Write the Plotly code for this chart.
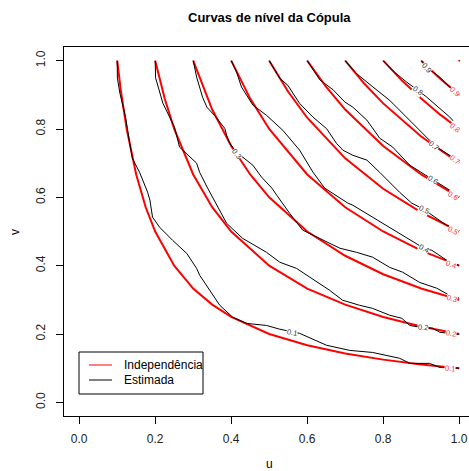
import math
import plotly.graph_objects as go

levels = [0.1, 0.2, 0.3, 0.4, 0.5, 0.6, 0.7, 0.8, 0.9]
level_text = ["0.1", "0.2", "0.3", "0.4", "0.5", "0.6", "0.7", "0.8", "0.9"]

# Independence copula contours (red)
red_u_1 = [0.1, 0.11, 0.125, 0.15, 0.175, 0.2, 0.25, 0.3, 0.35, 0.4, 0.5, 0.6, 0.7, 0.8, 0.9, 1.0]
red_v_1 = [1.0, 0.909, 0.8, 0.667, 0.571, 0.5, 0.4, 0.333, 0.286, 0.25, 0.2, 0.167, 0.143, 0.125, 0.111, 0.1]
red_u_2 = [0.2, 0.225, 0.25, 0.3, 0.35, 0.4, 0.5, 0.6, 0.7, 0.8, 0.9, 1.0]
red_v_2 = [1.0, 0.889, 0.8, 0.667, 0.571, 0.5, 0.4, 0.333, 0.286, 0.25, 0.222, 0.2]
red_u_3 = [0.3, 0.35, 0.4, 0.45, 0.5, 0.6, 0.7, 0.8, 0.9, 1.0]
red_v_3 = [1.0, 0.857, 0.75, 0.667, 0.6, 0.5, 0.429, 0.375, 0.333, 0.3]
red_u_4 = [0.4, 0.45, 0.5, 0.6, 0.7, 0.8, 0.9, 1.0]
red_v_4 = [1.0, 0.889, 0.8, 0.667, 0.571, 0.5, 0.444, 0.4]
red_u_5 = [0.5, 0.55, 0.6, 0.7, 0.8, 0.9, 1.0]
red_v_5 = [1.0, 0.909, 0.833, 0.714, 0.625, 0.556, 0.5]
red_u_6 = [0.6, 0.65, 0.7, 0.8, 0.9, 1.0]
red_v_6 = [1.0, 0.923, 0.857, 0.75, 0.667, 0.6]
red_u_7 = [0.7, 0.75, 0.8, 0.9, 1.0]
red_v_7 = [1.0, 0.933, 0.875, 0.778, 0.7]
red_u_8 = [0.8, 0.85, 0.9, 0.95, 1.0]
red_v_8 = [1.0, 0.941, 0.889, 0.842, 0.8]
red_u_9 = [0.9, 0.95, 1.0]
red_v_9 = [1.0, 0.947, 0.9]

# Estimated copula contours (black)
est_u_1 = [0.100, 0.1005, 0.107, 0.122, 0.133, 0.140, 0.159, 0.177, 0.180, 0.186, 0.193, 0.212, 0.246,
           0.283, 0.309, 0.317, 0.343, 0.370, 0.404, 0.441, 0.493, 0.528, 0.580, 0.651, 0.712, 0.772,
           0.843, 0.870, 0.922, 0.949, 1.000]
est_v_1 = [1.000, 0.949, 0.905, 0.835, 0.758, 0.714, 0.673, 0.627, 0.615, 0.592, 0.542, 0.512, 0.474,
           0.436, 0.392, 0.372, 0.328, 0.284, 0.249, 0.231, 0.225, 0.214, 0.202, 0.167, 0.152, 0.146,
           0.129, 0.114, 0.114, 0.102, 0.100]
est_u_2 = [0.200, 0.201, 0.220, 0.251, 0.264, 0.309, 0.317, 0.338, 0.388, 0.430, 0.493, 0.528, 0.572,
           0.607, 0.659, 0.693, 0.738, 0.772, 0.817, 0.849, 0.870, 0.896, 0.930, 0.949, 1.000]
est_v_2 = [1.000, 0.950, 0.876, 0.805, 0.747, 0.700, 0.673, 0.627, 0.524, 0.480, 0.439, 0.410, 0.392,
           0.366, 0.328, 0.299, 0.284, 0.275, 0.255, 0.246, 0.225, 0.220, 0.217, 0.205, 0.199]
est_u_3 = [0.300, 0.309, 0.325, 0.336, 0.362, 0.383, 0.388, 0.396, 0.414, 0.430, 0.457, 0.480, 0.507,
           0.520, 0.554, 0.588, 0.633, 0.686, 0.730, 0.772, 0.817, 0.851, 0.896, 0.941, 0.975, 1.000]
est_v_3 = [1.000, 0.952, 0.892, 0.864, 0.832, 0.802, 0.782, 0.758, 0.732, 0.717, 0.694, 0.659, 0.627,
           0.606, 0.553, 0.504, 0.480, 0.451, 0.439, 0.425, 0.395, 0.381, 0.351, 0.334, 0.313, 0.305]
est_u_4 = [0.400, 0.414, 0.427, 0.457, 0.493, 0.536, 0.580, 0.615, 0.646, 0.707, 0.720, 0.772, 0.817,
           0.851, 0.878, 0.907, 0.928, 0.957, 0.975, 1.000]
est_v_4 = [1.000, 0.967, 0.923, 0.870, 0.840, 0.796, 0.738, 0.674, 0.627, 0.583, 0.577, 0.542, 0.510,
           0.489, 0.469, 0.451, 0.445, 0.422, 0.410, 0.401]
est_u_5 = [0.500, 0.528, 0.549, 0.580, 0.615, 0.651, 0.677, 0.694, 0.720, 0.757, 0.791, 0.817, 0.843,
           0.875, 0.907, 0.922, 0.967, 1.000]
est_v_5 = [1.000, 0.948, 0.928, 0.875, 0.835, 0.801, 0.758, 0.738, 0.723, 0.709, 0.673, 0.644, 0.615,
           0.583, 0.565, 0.553, 0.518, 0.504]
est_u_6 = [0.600, 0.633, 0.668, 0.699, 0.720, 0.757, 0.791, 0.825, 0.870, 0.904, 0.930, 0.949, 0.975, 1.000]
est_v_6 = [1.000, 0.944, 0.915, 0.879, 0.864, 0.826, 0.773, 0.747, 0.694, 0.671, 0.653, 0.641, 0.621, 0.603]
est_u_7 = [0.700, 0.729, 0.773, 0.817, 0.861, 0.887, 0.922, 0.949, 0.975, 1.000]
est_v_7 = [1.000, 0.963, 0.923, 0.884, 0.835, 0.806, 0.767, 0.741, 0.723, 0.703]
est_u_8 = [0.800, 0.830, 0.861, 0.891, 0.914, 0.949, 0.975, 1.000]
est_v_8 = [1.000, 0.966, 0.938, 0.914, 0.894, 0.860, 0.835, 0.805]
est_u_9 = [0.900, 0.914, 0.949, 0.975, 1.000]
est_v_9 = [1.000, 0.981, 0.952, 0.922, 0.899]

# contour label anchors
red_lab_u = [0.975, 0.978, 0.980, 0.978, 0.983, 0.983, 0.988, 0.988, 0.988]
red_lab_v = [0.100, 0.202, 0.305, 0.404, 0.504, 0.606, 0.712, 0.805, 0.911]
est_lab_u = [0.559, 0.904, 0.414, 0.907, 0.907, 0.930, 0.933, 0.891, 0.914]
est_lab_v = [0.205, 0.220, 0.729, 0.451, 0.565, 0.653, 0.753, 0.914, 0.981]

red_u = [red_u_1, red_u_2, red_u_3, red_u_4, red_u_5, red_u_6, red_u_7, red_u_8, red_u_9]
red_v = [red_v_1, red_v_2, red_v_3, red_v_4, red_v_5, red_v_6, red_v_7, red_v_8, red_v_9]
est_u = [est_u_1, est_u_2, est_u_3, est_u_4, est_u_5, est_u_6, est_u_7, est_u_8, est_u_9]
est_v = [est_v_1, est_v_2, est_v_3, est_v_4, est_v_5, est_v_6, est_v_7, est_v_8, est_v_9]

W, H = 469, 471
ML, MR, MT, MB = 64, 0, 47, 55
XR = [-0.04, 1.0258]
YR = [-0.04, 1.04]
px_per_x = (W - ML - MR) / (XR[1] - XR[0])
px_per_y = (H - MT - MB) / (YR[1] - YR[0])
FONT = "Liberation Sans, Arial, Helvetica, sans-serif"

fig = go.Figure()
for i in range(len(levels)):
    fig.add_trace(go.Scatter(x=red_u[i], y=red_v[i], mode="lines",
                             line=dict(color="#ff0000", width=2), hoverinfo="skip", showlegend=False))
fig.add_trace(go.Scatter(x=[1.0], y=[1.0], mode="markers",
                         marker=dict(color="#ff0000", size=2), hoverinfo="skip", showlegend=False))
for i in range(len(levels)):
    fig.add_trace(go.Scatter(x=est_u[i], y=est_v[i], mode="lines",
                             line=dict(color="#000000", width=1), hoverinfo="skip", showlegend=False))


def local_angle(us, vs, u0):
    # slope of polyline near u0, in screen pixels
    best = 0
    for k in range(len(us) - 1):
        if us[k] <= u0 <= us[k + 1]:
            best = k
            break
        if us[k] < u0:
            best = k
    du = (us[best + 1] - us[best]) * px_per_x
    dv = (vs[best + 1] - vs[best]) * px_per_y
    if du == 0:
        return 90
    return math.degrees(math.atan2(dv, du)) * -1


annotations = []
for i in range(len(levels)):
    annotations.append(dict(x=red_lab_u[i], y=red_lab_v[i], xref="x", yref="y", text=level_text[i],
                            showarrow=False, textangle=local_angle(red_u[i], red_v[i], red_lab_u[i]),
                            font=dict(family=FONT, size=7.5, color="#ff3030"),
                            bgcolor="white", borderpad=0))
    annotations.append(dict(x=est_lab_u[i], y=est_lab_v[i], xref="x", yref="y", text=level_text[i],
                            showarrow=False, textangle=local_angle(est_u[i], est_v[i], est_lab_u[i]),
                            font=dict(family=FONT, size=7.5, color="#333333"),
                            bgcolor="white", borderpad=0))

# title and axis titles
annotations.append(dict(x=(269 - ML) / (W - ML - MR), y=1 + (MT - 18) / (H - MT - MB), xref="paper", yref="paper",
                        text="<b>Curvas de nível da Cópula</b>", showarrow=False,
                        font=dict(family=FONT, size=13, color="black"), xanchor="center", yanchor="middle"))
annotations.append(dict(x=(269 - ML) / (W - ML - MR), y=-(463.5 - (H - MB)) / (H - MT - MB), xref="paper", yref="paper",
                        text="u", showarrow=False, font=dict(family=FONT, size=12, color="black"),
                        xanchor="center", yanchor="middle"))
annotations.append(dict(x=-(ML - 15) / (W - ML - MR), y=(H - MB - 232) / (H - MT - MB), xref="paper", yref="paper",
                        text="v", showarrow=False, textangle=-90, font=dict(family=FONT, size=12, color="black"),
                        xanchor="center", yanchor="middle"))

# legend (drawn by hand like R's legend box)
def dx(p):
    return XR[0] + (p - ML) / px_per_x


def dy(p):
    return YR[0] + (H - MB - p) / px_per_y


shapes = [
    dict(type="rect", xref="x", yref="y", x0=dx(79), x1=dx(203), y0=dy(394), y1=dy(352),
         line=dict(color="black", width=1), fillcolor="white", layer="above"),
    dict(type="line", xref="x", yref="y", x0=dx(89), x1=dx(112), y0=dy(365), y1=dy(365),
         line=dict(color="#ff0000", width=1), layer="above"),
    dict(type="line", xref="x", yref="y", x0=dx(89), x1=dx(112), y0=dy(380), y1=dy(380),
         line=dict(color="black", width=1), layer="above"),
]
annotations.append(dict(x=dx(122), y=dy(365), xref="x", yref="y", text="Independência", showarrow=False,
                        xanchor="left", yanchor="middle", font=dict(family=FONT, size=12, color="black")))
annotations.append(dict(x=dx(122), y=dy(380), xref="x", yref="y", text="Estimada", showarrow=False,
                        xanchor="left", yanchor="middle", font=dict(family=FONT, size=12, color="black")))

tickvals = [0.0, 0.2, 0.4, 0.6, 0.8, 1.0]
ticktext = ["0.0", "0.2", "0.4", "0.6", "0.8", "1.0"]

fig.update_layout(
    width=W, height=H,
    margin=dict(l=ML, r=MR, t=MT, b=MB, pad=0),
    paper_bgcolor="white", plot_bgcolor="white",
    showlegend=False,
    font=dict(family=FONT, size=12, color="black"),
    xaxis=dict(range=XR, showgrid=False, zeroline=False, showline=True, linecolor="black", linewidth=1,
               mirror=True, ticks="outside", ticklen=7, tickcolor="black", tickvals=tickvals,
               ticktext=ticktext, ticklabelstandoff=5, tickfont=dict(family=FONT, size=12, color="#222222")),
    yaxis=dict(range=YR, showgrid=False, zeroline=False, showline=True, linecolor="black", linewidth=1,
               ticks="outside", ticklen=7, tickcolor="black", tickvals=tickvals, ticktext=ticktext,
               ticklabelstandoff=6, tickangle=-90, tickfont=dict(family=FONT, size=12, color="#222222")),
    annotations=annotations,
    shapes=shapes,
)

fig.write_html("out.html")
